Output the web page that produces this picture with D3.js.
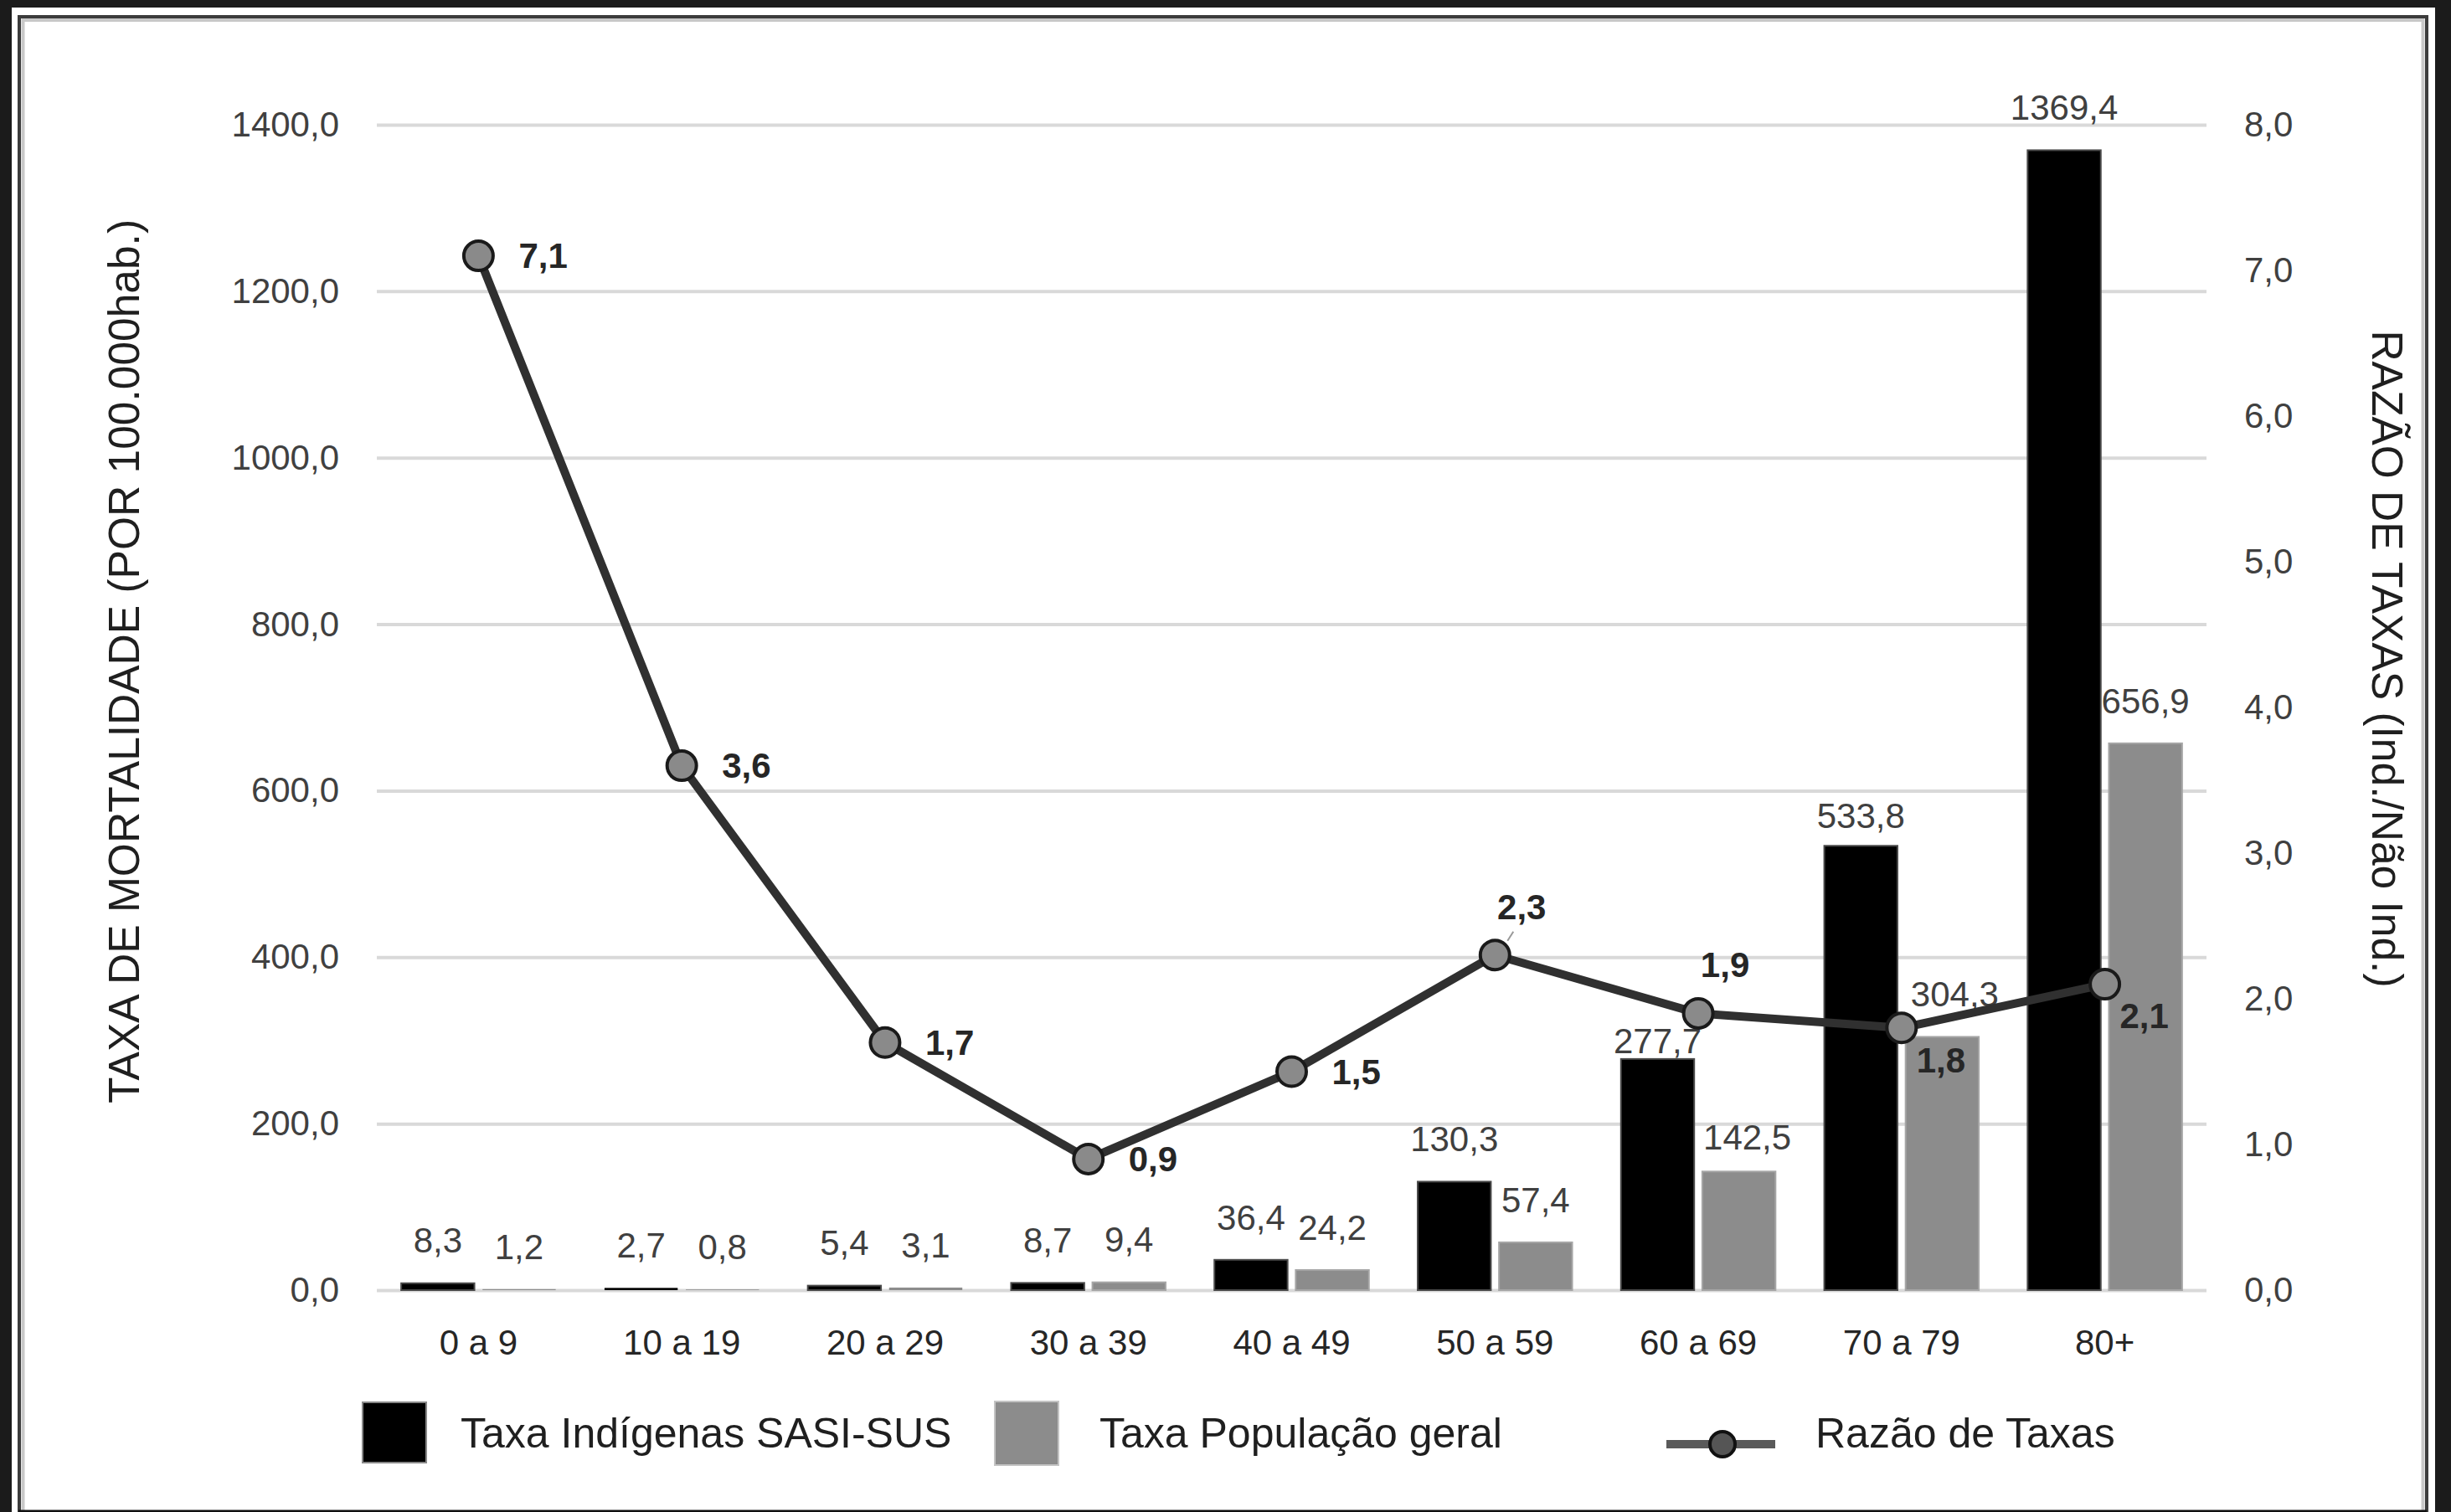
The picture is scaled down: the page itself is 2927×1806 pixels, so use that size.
<!DOCTYPE html>
<html>
<head>
<meta charset="utf-8">
<script src="https://cdn.jsdelivr.net/npm/d3@7"></script>
<style>
  body { margin: 0; background: #fff; }
  svg { display: block; }
</style>
</head>
<body>
<div id="chart"></div>
<script>
// values
const ageGroups = ["0 a 9", "10 a 19", "20 a 29", "30 a 39", "40 a 49", "50 a 59", "60 a 69", "70 a 79", "80+"];
const taxaIndigenas = [8.3, 2.7, 5.4, 8.7, 36.4, 130.3, 277.7, 533.8, 1369.4];
const taxaGeral = [1.2, 0.8, 3.1, 9.4, 24.2, 57.4, 142.5, 304.3, 656.9];
const razaoTaxas = [7.1, 3.6, 1.7, 0.9, 1.5, 2.3, 1.9, 1.8, 2.1];

// axes
const leftTicks = [0, 200, 400, 600, 800, 1000, 1200, 1400];
const rightTicks = [0, 1, 2, 3, 4, 5, 6, 7, 8];
const seriesNames = ["Taxa Indígenas SASI-SUS", "Taxa População geral", "Razão de Taxas"];
const leftTitle = "TAXA DE MORTALIDADE (POR 100.000hab.)";
const rightTitle = "RAZÃO DE TAXAS (Ind./Não Ind.)";

// where the ratio labels sit relative to their marker
const ratioLabelPlace = ["right", "right", "right", "right", "right", "above", "above", "below", "below"];
// a few bar labels were dragged by hand in the original [dx, dy]
const barLabelNudge = {
  "60 a 69|0": [0, 29],
  "70 a 79|0": [0, 15],
  "60 a 69|1": [10, 10],
  "70 a 79|1": [15, 0],
};

// plot globals
const w = 2927;
const h = 1806;
const m = { top: 149, right: 292, bottom: 265, left: 450 };
const font = "'Liberation Sans', Arial, sans-serif";
const colours = { ind: "#000000", geral: "#8c8c8c", line: "#303030", text: "#404040" };

// decimal comma, no thousands separator
const br = d3.formatLocale({ decimal: ",", thousands: "", grouping: [3], currency: ["R$", ""] });
const fmt = br.format(".1f");

const svg = d3
  .select("#chart")
  .append("svg")
  .attr("width", w)
  .attr("height", h)
  .attr("viewBox", [0, 0, w, h]);

// scanned frame round the figure
svg.append("rect").attr("width", w).attr("height", h).attr("fill", "#1b1b1b");
svg.append("rect").attr("x", 14).attr("y", 9).attr("width", 2894).attr("height", h - 9).attr("fill", "#fff");
svg.append("rect")
  .attr("x", 23).attr("y", 20).attr("width", 2875).attr("height", 1800)
  .attr("fill", "none").attr("stroke", "#3c3c3c").attr("stroke-width", 4);
svg.append("rect")
  .attr("x", 27.5).attr("y", 24).attr("width", 2866).attr("height", 1800)
  .attr("fill", "none").attr("stroke", "#c8c8c8").attr("stroke-width", 4);
svg.append("line")
  .attr("x1", 22).attr("x2", 2898).attr("y1", 1805).attr("y2", 1805)
  .attr("stroke", "#111").attr("stroke-width", 3);

// scales
const x = d3.scaleBand().domain(ageGroups).range([m.left, w - m.right]);
const xs = d3.scaleBand().domain([0, 1]).range([0, x.bandwidth()]).paddingInner(0.1).paddingOuter(0.3);
const yL = d3.scaleLinear().domain([0, 1400]).range([h - m.bottom, m.top]);
const yR = d3.scaleLinear().domain([0, 8]).range([h - m.bottom, m.top]);

// gridlines
svg
  .append("g")
  .attr("transform", `translate(${m.left},0)`)
  .call(d3.axisLeft(yL).tickValues(leftTicks).tickSize(-(w - m.left - m.right)).tickFormat(""))
  .call((g) => g.select(".domain").remove())
  .call((g) => g.selectAll("line").attr("stroke", "#d9d9d9").attr("stroke-width", 4));

// left axis labels
svg
  .append("g")
  .attr("transform", `translate(${m.left},0)`)
  .call(d3.axisLeft(yL).tickValues(leftTicks).tickSize(0).tickPadding(45).tickFormat(fmt))
  .call((g) => g.select(".domain").remove())
  .attr("font-size", 42)
  .attr("font-family", font)
  .selectAll("text")
  .attr("fill", colours.text);

// right axis labels
svg
  .append("g")
  .attr("transform", `translate(${w - m.right},0)`)
  .call(d3.axisRight(yR).tickValues(rightTicks).tickSize(0).tickPadding(45).tickFormat(fmt))
  .call((g) => g.select(".domain").remove())
  .attr("font-size", 42)
  .attr("font-family", font)
  .selectAll("text")
  .attr("fill", colours.text);

// categories
svg
  .append("g")
  .attr("transform", `translate(0,${h - m.bottom})`)
  .call(d3.axisBottom(x).tickSize(0).tickPadding(47))
  .call((g) => g.select(".domain").remove())
  .attr("font-size", 42)
  .attr("font-family", font)
  .selectAll("text")
  .attr("fill", "#262626");

// bars
const barData = ageGroups.flatMap((g, i) => [
  { group: g, s: 0, v: taxaIndigenas[i] },
  { group: g, s: 1, v: taxaGeral[i] },
]);

svg
  .append("g")
  .selectAll("rect")
  .data(barData)
  .join("rect")
  .attr("x", (d) => x(d.group) + xs(d.s))
  .attr("width", xs.bandwidth())
  .attr("y", (d) => yL(d.v))
  .attr("height", (d) => yL(0) - yL(d.v))
  .attr("fill", (d) => (d.s === 0 ? colours.ind : colours.geral))
  // tiny bars disappear into the gridline in the scan
  .attr("stroke", (d) => (d.v < 4 ? "none" : d.s === 0 ? "#4a4a4a" : "#a6a6a6"))
  .attr("stroke-width", 2);

// bar labels
svg
  .append("g")
  .attr("font-size", 42)
  .attr("font-family", font)
  .attr("fill", colours.text)
  .attr("text-anchor", "middle")
  .selectAll("text")
  .data(barData)
  .join("text")
  .attr("x", (d) => x(d.group) + xs(d.s) + xs.bandwidth() / 2 + (barLabelNudge[d.group + "|" + d.s] || [0, 0])[0])
  .attr("y", (d) => yL(d.v) - 51 + (barLabelNudge[d.group + "|" + d.s] || [0, 0])[1])
  .attr("dy", "0.35em")
  .text((d) => fmt(d.v));

// ratio line
const cx = (g) => x(g) + x.bandwidth() / 2;
const ratioData = ageGroups.map((g, i) => ({ group: g, v: razaoTaxas[i], place: ratioLabelPlace[i] }));

svg
  .append("path")
  .datum(ratioData)
  .attr("fill", "none")
  .attr("stroke", colours.line)
  .attr("stroke-width", 10)
  .attr("stroke-linejoin", "round")
  .attr("d", d3.line().x((d) => cx(d.group)).y((d) => yR(d.v)));

svg
  .append("g")
  .selectAll("circle")
  .data(ratioData)
  .join("circle")
  .attr("cx", (d) => cx(d.group))
  .attr("cy", (d) => yR(d.v))
  .attr("r", 17.5)
  .attr("fill", "#8a8a8a")
  .attr("stroke", "#1a1a1a")
  .attr("stroke-width", 4);

// label offsets for each placement
const place = {
  right: { dx: 48, dy: 0, anchor: "start" },
  above: { dx: 32, dy: -58, anchor: "middle" },
  below: { dx: 47, dy: 38, anchor: "middle" },
};

// small leader line on the 2,3 label
svg
  .append("line")
  .attr("x1", cx(ageGroups[5]) + 15)
  .attr("y1", yR(razaoTaxas[5]) - 17)
  .attr("x2", cx(ageGroups[5]) + 22)
  .attr("y2", yR(razaoTaxas[5]) - 28)
  .attr("stroke", "#999")
  .attr("stroke-width", 2);

svg
  .append("g")
  .attr("font-size", 42)
  .attr("font-weight", "bold")
  .attr("font-family", font)
  .attr("fill", "#262626")
  .selectAll("text")
  .data(ratioData)
  .join("text")
  .attr("x", (d) => cx(d.group) + place[d.place].dx)
  .attr("y", (d) => yR(d.v) + place[d.place].dy)
  .attr("dy", "0.35em")
  .attr("text-anchor", (d) => place[d.place].anchor)
  .text((d) => fmt(d.v));

// axis titles
svg
  .append("text")
  .attr("transform", `translate(148, 790)rotate(-90)`)
  .attr("text-anchor", "middle")
  .attr("dy", "0.35em")
  .attr("font-size", 51.5)
  .attr("font-family", font)
  .attr("fill", "#1f1f1f")
  .text(leftTitle);

svg
  .append("text")
  .attr("transform", `translate(2851, 787)rotate(90)`)
  .attr("text-anchor", "middle")
  .attr("dy", "0.35em")
  .attr("font-size", 51.5)
  .attr("font-family", font)
  .attr("fill", "#1f1f1f")
  .text(rightTitle);

// legend
const legend = svg.append("g").attr("font-size", 50).attr("font-family", font).attr("fill", "#1f1f1f");
const legendY = 1711;

legend.append("rect").attr("x", 433).attr("y", legendY - 36).attr("width", 76).attr("height", 72)
  .attr("fill", colours.ind).attr("stroke", "#888").attr("stroke-width", 2);
legend.append("text").attr("x", 550).attr("y", legendY).attr("dy", "0.35em").text(seriesNames[0]);

legend.append("rect").attr("x", 1188).attr("y", legendY - 37).attr("width", 76).attr("height", 76)
  .attr("fill", colours.geral).attr("stroke", "#c4c4c4").attr("stroke-width", 2);
legend.append("text").attr("x", 1313).attr("y", legendY).attr("dy", "0.35em").text(seriesNames[1]);

legend.append("line").attr("x1", 1990).attr("x2", 2120).attr("y1", legendY + 14).attr("y2", legendY + 14)
  .attr("stroke", "#5a5a5a").attr("stroke-width", 10);
legend.append("circle").attr("cx", 2057).attr("cy", legendY + 14).attr("r", 15)
  .attr("fill", "#555").attr("stroke", "#111").attr("stroke-width", 4);
legend.append("text").attr("x", 2168).attr("y", legendY).attr("dy", "0.35em").text(seriesNames[2]);
</script>
</body>
</html>
